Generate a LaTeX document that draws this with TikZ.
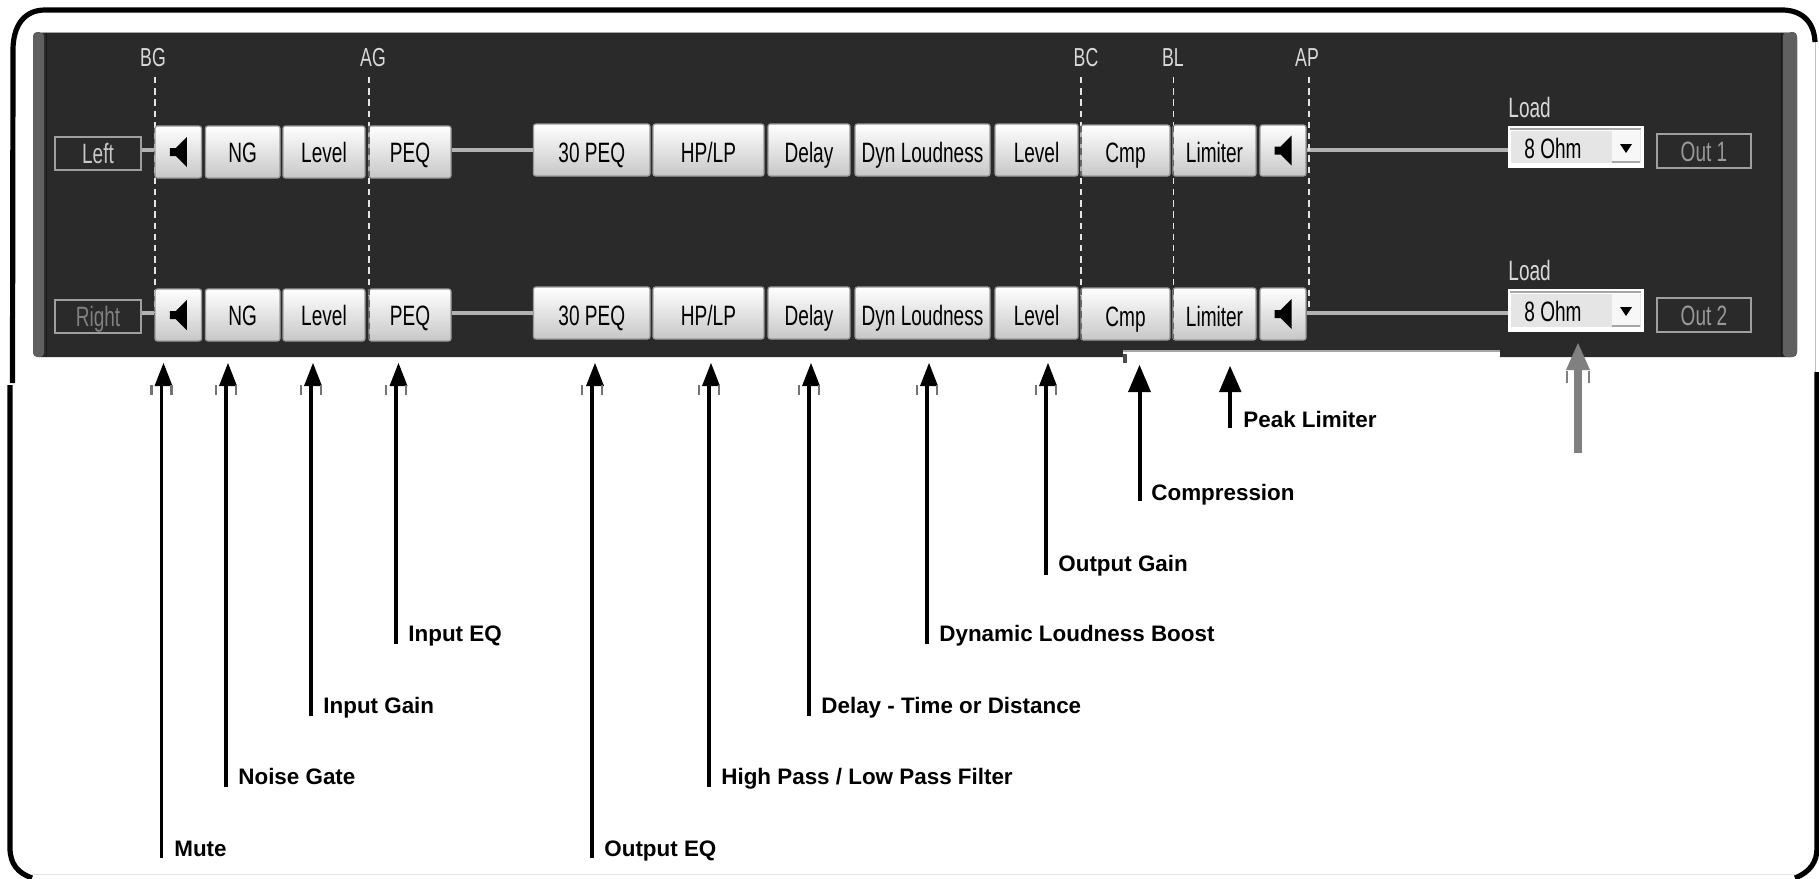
\documentclass[tikz,border=0pt]{standalone}
\usepackage{fontspec}
\setmainfont{Liberation Sans}
\newfontfamily\uifont[FakeStretch=0.68]{Liberation Sans}
\definecolor{panelc}{HTML}{2A2A2A}
\definecolor{stripec}{HTML}{606060}
\tikzset{
  x=0.5pt,y=-0.5pt,
  frameline/.style={line width=2.6pt,black},
  btn/.style={draw=gray!80,line width=0.6pt,rounded corners=1.2pt,top color=white,bottom color=black!22,inner sep=0,
    text=black,text height=10pt,text depth=0pt,font=\uifont\fontsize{14}{14}\selectfont},
  btnlo/.style={btn,text height=12pt},
  iobox/.style={draw=gray!75,line width=0.6pt,fill=none,inner sep=0,text height=10pt,text depth=0pt,font=\uifont\fontsize{14}{14}\selectfont},
  wire/.style={line width=1.7pt,black!30},
  dashln/.style={white!90!black,line width=0.55pt,dash pattern=on 3.2pt off 2.4pt},
  toplab/.style={text=white!85!black,inner sep=0,font=\uifont\fontsize{13}{13}\selectfont},
  lab/.style={anchor=west,inner sep=0,text height=8pt,text depth=0pt,font=\bfseries\fontsize{11.2}{12}\selectfont},
  shaft/.style={line width=1.7pt,black},
  tick/.style={line width=1.3pt,black!55},
}
% #1 style, #2 name, #3 left, #4 top, #5 right, #6 bottom, #7 text
\newcommand\btnat[7]{\node[#1,minimum width={(#5-#3)*0.5pt},minimum height={(#6-#4)*0.5pt}] (#2) at ({(#3+#5)/2},{(#4+#6)/2}) {#7};}
% speaker icon centred on a button
\newcommand\spk[1]{\fill[black] ([shift={(-8.5,-4)}]#1.center) -- ++(6,0) -- ++(11,-11) -- ++(0,30) -- ++(-11,-11) -- ++(-6,0) -- cycle;}
% #1 name, #2 shaft x, #3 tip x, #4 bottom y, #5 label x, #6 label y, #7 text
\newcommand\arr[7]{%
  \node[lab] (#1) at (#5,#6) {#7};
  \coordinate (#1b) at (#2,#4);
  \coordinate (#1t) at (#2,382);
  \draw[shaft] (#1b) -- (#1t);
  \fill[black] (#3,363) -- (#3+9,386) -- (#3-9,386) -- cycle;
  \draw[tick] (#2-10,385) -- (#2-10,395);
  \draw[tick] (#2+10,385) -- (#2+10,395);
}
\begin{document}
\begin{tikzpicture}
\useasboundingbox (0,0) rectangle (1819,878);
\fill[white] (0,0) rectangle (1819,878);
% outer frame
\draw[frameline,line cap=butt] (12.5,383) -- (13,50) .. controls (13,26) and (24,10) .. (45,10) -- (1782,10) .. controls (1800,10) and (1814,20) .. (1815,42);
\draw[black!25,line width=0.4pt] (1815,42) -- (1815,372);
\draw[frameline,line cap=butt] (10,385) -- (10,848) .. controls (10,864) and (18,873) .. (32,878);
\draw[frameline,line cap=butt] (1817,372) -- (1817,848) .. controls (1817,862) and (1810,872) .. (1795,878);
\draw[black!10,line width=0.4pt] (32,874) -- (1795,874);
% panel
\fill[panelc,rounded corners=3pt] (33,32) rectangle (1797,357);
\fill[stripec,rounded corners=2pt] (33,32) rectangle (44,357);
\fill[stripec,rounded corners=2pt] (1783,32) rectangle (1797,357);
\draw[black!90,line width=0.5pt] (46,33) -- (46,357);
\draw[black!90,line width=0.5pt] (1781,33) -- (1781,357);
\draw[gray!70,line width=0.4pt] (40,32) -- (1790,32);
% white patch on the panel's lower edge
\fill[white] (1123,351) rectangle (1500,358);
\draw[gray!70,line width=0.6pt] (1123,351) -- (1500,351);
\fill[black!70] (1123,354) rectangle (1127,363);
% dashed guides
\node[toplab] (BG) at (153,58) {BG};
\node[toplab] (AG) at (373,58) {AG};
\node[toplab] (BC) at (1086,58) {BC};
\node[toplab] (BL) at (1173,58) {BL};
\node[toplab] (AP) at (1307,58) {AP};
\foreach \xx/\nm in {155/BG,369/AG,1081/BC,1173.5/BL,1309/AP}{
  \draw[dashln] (\xx,77) -- (\xx,313);
}
% io boxes
\node[iobox,text=white!78!black,minimum width=43pt,minimum height=16.5pt] (left) at (98,153.5) {Left};
\node[iobox,text=white!50!black,minimum width=43pt,minimum height=16.5pt] (right) at (98,316.5) {Right};
\foreach \r/\ta/\tb/\tc/\td/\te/\tf in {a/126/178/124/176/125/176,b/289/341/287/339/288/340}{
  \btnat{btn}{mu\r}{155}{\ta}{201.5}{\tb}{}
  \btnat{btn}{ng\r}{205.5}{\ta}{280}{\tb}{NG}
  \btnat{btn}{le\r}{283}{\ta}{365}{\tb}{Level}
  \btnat{btn}{pe\r}{369}{\ta}{451}{\tb}{PEQ}
  \btnat{btnlo}{tp\r}{533.5}{\tc}{650}{\td}{30 PEQ}
  \btnat{btnlo}{hp\r}{653}{\tc}{764}{\td}{HP/LP}
  \btnat{btnlo}{de\r}{768}{\tc}{850}{\td}{Delay}
  \btnat{btnlo}{dy\r}{855}{\tc}{990}{\td}{Dyn Loudness}
  \btnat{btnlo}{lv\r}{995}{\tc}{1078}{\td}{Level}
  \btnat{btnlo}{cm\r}{1081}{\te}{1170}{\tf}{Cmp}
  \btnat{btnlo}{li\r}{1173}{\te}{1256}{\tf}{Limiter}
  \btnat{btn}{mo\r}{1260}{\te}{1306}{\tf}{}
  \spk{mu\r}
  \spk{mo\r}
}
% drop-downs
\foreach \r/\ya/\yb/\lb/\oa/\ob/\ot in {a/126/168/107/134/168/Out 1,b/289/332/270/298/332/Out 2}{
  \node[fill=white,draw=none,inner sep=0,minimum width=68pt,minimum height={(\yb-\ya)*0.5pt}] (dd\r) at (1576,{(\ya+\yb)/2}) {};
  \fill[black!10] (1511,\ya+5) rectangle (1641,\yb-5);
  \fill[white!97!black] (1612,\ya+5) rectangle (1640,\yb-6);
  \draw[gray!70,line width=0.9pt] (1510,\ya+3) -- (1641,\ya+3);
  \draw[gray!70,line width=0.9pt] (1612,\yb-6) -- (1640,\yb-6);
  \node[inner sep=0,text=black,font=\uifont\fontsize{14}{14}\selectfont] (oh\r) at (1553,{\ya+22}) {8 Ohm};
  \fill[black] (1620,\ya+18) -- (1632,\ya+18) -- (1626,\ya+27) -- cycle;
  \node[toplab,anchor=west,font=\uifont\fontsize{14}{14}\selectfont] (lo\r) at (1508,\lb) {Load};
  \node[iobox,text=gray!80,minimum width=47pt,minimum height={(\ob-\oa)*0.5pt}] (ou\r) at (1704,{(\oa+\ob)/2}) {\ot};
}
% wires between blocks
\draw[wire] (left.east |- 0,150) -- (mua.west |- 0,150);
\draw[wire] (right.east |- 0,313) -- (mub.west |- 0,313);
\draw[wire] (pea.east |- 0,150) -- (tpa.west |- 0,150);
\draw[wire] (peb.east |- 0,313) -- (tpb.west |- 0,313);
\draw[wire] (moa.east |- 0,150) -- (dda.west |- 0,150);
\draw[wire] (mob.east |- 0,313) -- (ddb.west |- 0,313);
% dashes again where they run over button edges
\foreach \xx in {369,1081,1173.5}{
  \draw[dashln,black!60] (\xx,126) -- (\xx,176);
  \draw[dashln,black!60] (\xx,289) -- (\xx,339);
}
\draw[dashln] (1309,77) -- (1309,305);
% callouts
\arr{mute}{161.5}{163.5}{858}{174}{848}{Mute}
\arr{noise}{226}{228}{787}{238}{776}{Noise Gate}
\arr{igain}{311}{313}{716}{323}{705}{Input Gain}
\arr{ieq}{396}{398.5}{644}{408}{633}{Input EQ}
\arr{oeq}{592}{595}{858}{604}{848}{Output EQ}
\arr{hplp}{709}{711}{787}{721}{776}{High Pass / Low Pass Filter}
\arr{dly}{809}{811}{716}{821}{705}{Delay - Time or Distance}
\arr{dyn}{927}{929}{644}{939}{633}{Dynamic Loudness Boost}
\arr{ogain}{1046}{1048}{575}{1058}{563}{Output Gain}
% compression
\node[lab] (comp) at (1151,492) {Compression};
\coordinate (compb) at (1140,501); \coordinate (compt) at (1140,390);
\draw[shaft] (compb) -- (compt);
\fill[black] (1139.5,365) -- (1151,392) -- (1128,392) -- cycle;
% peak limiter
\node[lab] (peak) at (1243,419) {Peak Limiter};
\coordinate (peakb) at (1230,428); \coordinate (peakt) at (1230,390);
\draw[shaft,line width=2pt] (peakb) -- (peakt);
\fill[black] (1230,366) -- (1241.5,392) -- (1219,392) -- cycle;
% grey arrow
\coordinate (gb) at (1578,453); \coordinate (gt) at (1578,368);
\draw[line width=3.6pt,gray] (gb) -- (gt);
\fill[gray] (1578,343) -- (1590,370) -- (1566,370) -- cycle;
\draw[tick,gray] (1567,371) -- (1567,383);
\draw[tick,gray] (1589,371) -- (1589,383);
\end{tikzpicture}
\end{document}
